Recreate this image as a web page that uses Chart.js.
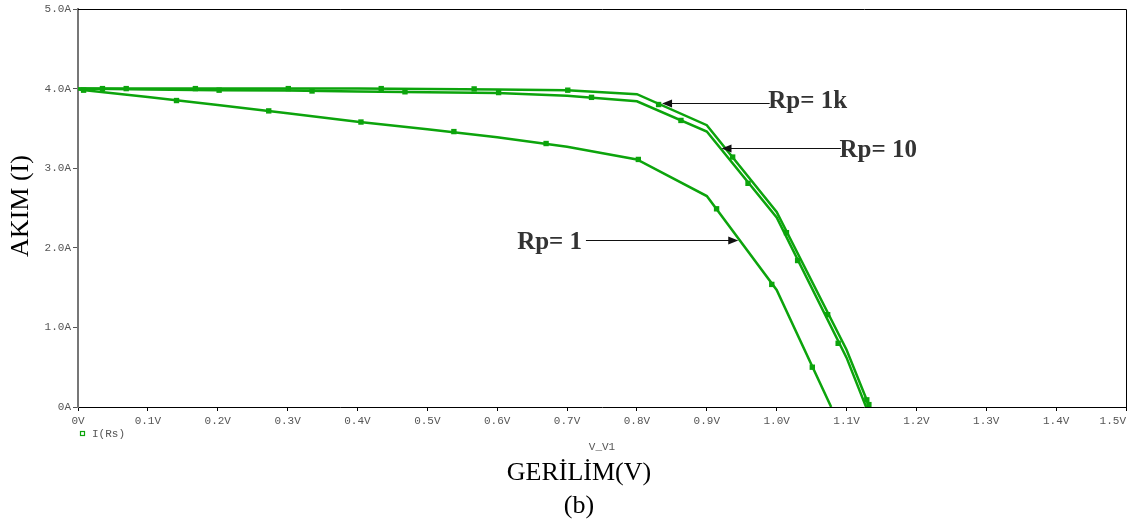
<!DOCTYPE html>
<html>
<head>
<meta charset="utf-8">
<script src="https://cdn.jsdelivr.net/npm/chart.js@4"></script>
<style>
  body { margin: 0; background: #fff; }
  canvas { display: block; }
</style>
</head>
<body>
<canvas id="my-chart" width="1135" height="525"></canvas>
<script>
// voltage grid (V) where the traces bend
const volts1k = [0, 0.1, 0.2, 0.3, 0.4, 0.5, 0.6, 0.7, 0.8, 0.9, 1.0, 1.1, 1.133];
const amps1k  = [4.0, 4.0, 4.0, 4.0, 4.0, 3.995, 3.99, 3.98, 3.93, 3.54, 2.45, 0.72, 0];
const volts10 = [0, 0.1, 0.2, 0.3, 0.4, 0.5, 0.6, 0.7, 0.8, 0.9, 1.0, 1.1, 1.128];
const amps10  = [4.0, 3.99, 3.98, 3.975, 3.965, 3.955, 3.945, 3.91, 3.84, 3.46, 2.38, 0.62, 0];
const volts1  = [0, 0.1, 0.2, 0.3, 0.4, 0.5, 0.6, 0.7, 0.8, 0.9, 1.0, 1.078];
const amps1   = [3.99, 3.895, 3.795, 3.69, 3.585, 3.49, 3.39, 3.27, 3.11, 2.65, 1.47, 0];

// trace markers
const mkV1k = [0.035, 0.168, 0.301, 0.434, 0.567, 0.701, 0.831, 0.937, 1.014, 1.073, 1.132];
const mkI1k = [4.0, 4.0, 4.0, 4.0, 3.996, 3.98, 3.80, 3.14, 2.19, 1.16, 0.03];
const mkV10 = [0.069, 0.202, 0.335, 0.468, 0.602, 0.735, 0.863, 0.959, 1.030, 1.088, 1.129];
const mkI10 = [4.0, 3.98, 3.97, 3.96, 3.95, 3.89, 3.60, 2.81, 1.84, 0.80, 0.09];
const mkV1  = [0.008, 0.141, 0.273, 0.405, 0.538, 0.670, 0.802, 0.914, 0.993, 1.051];
const mkI1  = [3.98, 3.85, 3.72, 3.58, 3.46, 3.31, 3.11, 2.49, 1.54, 0.50];

const xTicks = [0, 0.1, 0.2, 0.3, 0.4, 0.5, 0.6, 0.7, 0.8, 0.9, 1.0, 1.1, 1.2, 1.3, 1.4, 1.5];
const xTickLabels = ['0V','0.1V','0.2V','0.3V','0.4V','0.5V','0.6V','0.7V','0.8V','0.9V','1.0V','1.1V','1.2V','1.3V','1.4V','1.5V'];
const yTicks = [0, 1, 2, 3, 4, 5];
const yTickLabels = ['0A','1.0A','2.0A','3.0A','4.0A','5.0A'];

const traceName = 'I(Rs)';
const xVarName = 'V_V1';
const xTitle = 'GERİLİM(V)';
const yTitle = 'AKIM (I)';
const caption = '(b)';

// labels with arrows: text, arrow tail, arrow tip (data coords)
const notes = [
  { text: 'Rp= 1k', tx: 0.988, ty: 3.757, align: 'left',  x0: 0.990, x1: 0.836, y: 3.82 },
  { text: 'Rp= 10', tx: 1.090, ty: 3.141, align: 'left',  x0: 1.092, x1: 0.921, y: 3.249 },
  { text: 'Rp= 1',  tx: 0.7215, ty: 1.987, align: 'right', x0: 0.727, x1: 0.945, y: 2.092 },
];

const green = '#0ca40c';
const pts = (xs, ys) => xs.map((x, i) => ({ x: x, y: ys[i] }));

const lineSet = (xs, ys) => ({
  data: pts(xs, ys), showLine: true, borderColor: green, borderWidth: 2.5,
  pointRadius: 0, tension: 0, fill: false
});
const markSet = (xs, ys) => ({
  data: pts(xs, ys), showLine: false, pointStyle: 'rect', pointRadius: 3.8,
  backgroundColor: green, borderColor: green, borderWidth: 0
});

const decor = {
  id: 'decor',
  afterDraw(chart) {
    const ctx = chart.ctx;
    const a = chart.chartArea;
    const xs = chart.scales.x, ys = chart.scales.y;
    ctx.save();
    // top + right frame
    ctx.strokeStyle = '#000';
    ctx.lineWidth = 1;
    ctx.beginPath();
    ctx.moveTo(a.left, a.top + 0.5);
    ctx.lineTo(a.right + 0.5, a.top + 0.5);
    ctx.lineTo(a.right + 0.5, a.bottom);
    ctx.stroke();

    // tick labels
    ctx.fillStyle = '#555';
    ctx.font = '11px "Liberation Mono", "DejaVu Sans Mono", monospace';
    ctx.textBaseline = 'middle';
    xTicks.forEach((v, i) => {
      const px = xs.getPixelForValue(v);
      const w = ctx.measureText(xTickLabels[i]).width;
      if (px + w / 2 > chart.width - 2) {
        ctx.textAlign = 'right';
        ctx.fillText(xTickLabels[i], a.right, a.bottom + 14);
      } else {
        ctx.textAlign = 'center';
        ctx.fillText(xTickLabels[i], px, a.bottom + 14);
      }
    });
    ctx.textAlign = 'right';
    yTicks.forEach((v, i) => ctx.fillText(yTickLabels[i], a.left - 7, ys.getPixelForValue(v)));

    // legend + x variable
    ctx.strokeStyle = green;
    ctx.lineWidth = 1.2;
    ctx.strokeRect(80.5, 431.5, 4, 4);
    ctx.textAlign = 'left';
    ctx.fillText(traceName, 92, 434);
    ctx.textAlign = 'center';
    ctx.fillText(xVarName, 602, 447);

    // titles
    ctx.fillStyle = '#000';
    ctx.font = '26px "Liberation Serif", "Times New Roman", serif';
    ctx.fillText(xTitle, 579, 473);
    ctx.fillText(caption, 579, 506);
    ctx.save();
    ctx.translate(21, 206);
    ctx.rotate(-Math.PI / 2);
    ctx.fillText(yTitle, 0, 0);
    ctx.restore();

    // annotations
    notes.forEach(n => {
      const yy = Math.round(ys.getPixelForValue(n.y)) + 0.5;
      const p0 = xs.getPixelForValue(n.x0), p1 = xs.getPixelForValue(n.x1);
      const dir = Math.sign(p1 - p0);
      ctx.strokeStyle = '#111';
      ctx.lineWidth = 1.2;
      ctx.beginPath();
      ctx.moveTo(p0, yy);
      ctx.lineTo(p1 - dir * 6, yy);
      ctx.stroke();
      ctx.fillStyle = '#111';
      ctx.beginPath();
      ctx.moveTo(p1, yy);
      ctx.lineTo(p1 - dir * 10, yy - 4);
      ctx.lineTo(p1 - dir * 10, yy + 4);
      ctx.closePath();
      ctx.fill();
      ctx.fillStyle = '#333';
      ctx.font = 'bold 25px "Liberation Serif", "Times New Roman", serif';
      ctx.textAlign = n.align;
      ctx.textBaseline = 'alphabetic';
      ctx.fillText(n.text, xs.getPixelForValue(n.tx), ys.getPixelForValue(n.ty));
    });
    ctx.restore();
  }
};

new Chart(document.getElementById('my-chart').getContext('2d'), {
  type: 'scatter',
  data: {
    datasets: [
      lineSet(volts1k, amps1k),
      lineSet(volts10, amps10),
      lineSet(volts1, amps1),
      markSet(mkV1k, mkI1k),
      markSet(mkV10, mkI10),
      markSet(mkV1, mkI1),
    ]
  },
  options: {
    responsive: false,
    animation: false,
    layout: { padding: { top: 9, right: 9, left: 0, bottom: 0 } },
    plugins: { legend: { display: false }, tooltip: { enabled: false } },
    scales: {
      x: {
        type: 'linear', min: 0, max: 1.5,
        ticks: { display: false, stepSize: 0.1 },
        grid: { drawOnChartArea: false, tickLength: 4, color: '#000' },
        border: { color: '#000', width: 1 },
        afterFit: s => { s.height = 118; }
      },
      y: {
        min: 0, max: 5,
        ticks: { display: false, stepSize: 1 },
        grid: { drawOnChartArea: false, tickLength: 5, color: '#555' },
        border: { color: '#777', width: 2 },
        afterFit: s => { s.width = 78; }
      }
    }
  },
  plugins: [decor]
});
</script>
</body>
</html>
